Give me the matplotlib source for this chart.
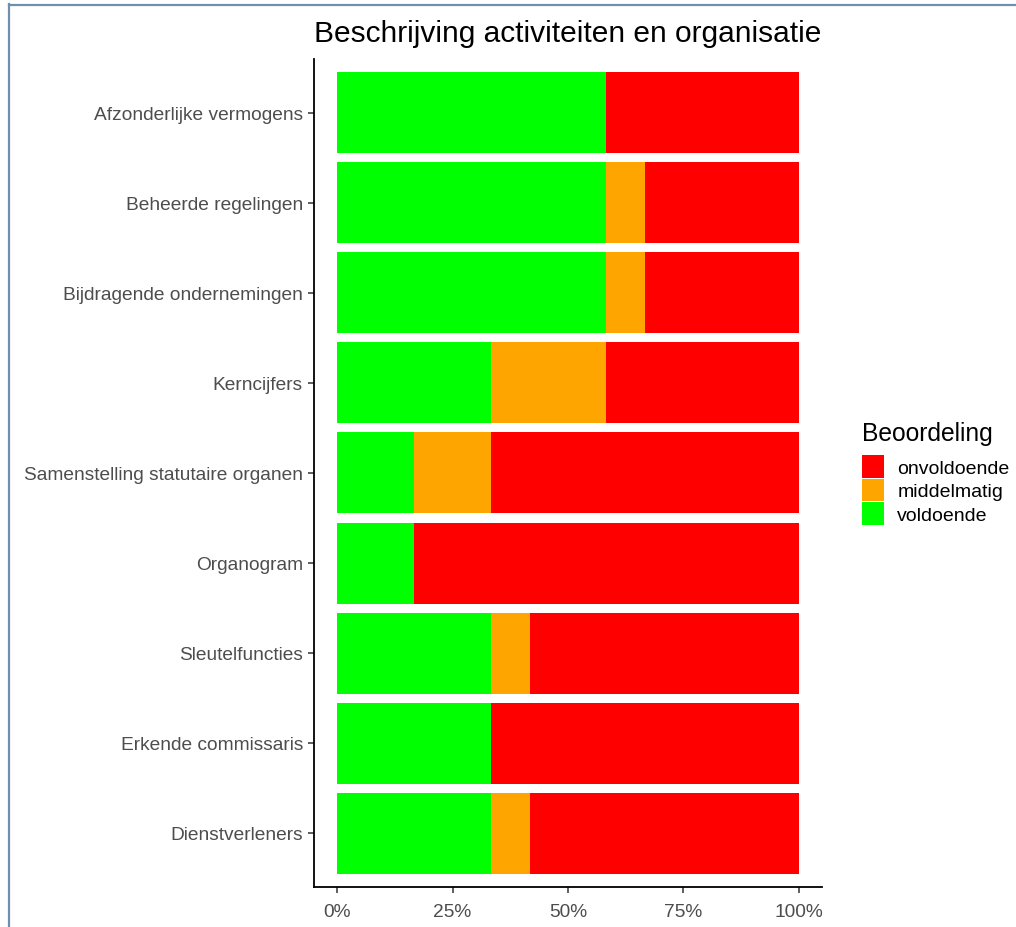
import matplotlib
matplotlib.use("Agg")
import matplotlib.pyplot as plt
from matplotlib.patches import Patch
from matplotlib.lines import Line2D
from matplotlib.ticker import FuncFormatter

plt.rcParams['font.family'] = ['Liberation Sans', 'DejaVu Sans']

categories = [
    "Afzonderlijke vermogens",
    "Beheerde regelingen",
    "Bijdragende ondernemingen",
    "Kerncijfers",
    "Samenstelling statutaire organen",
    "Organogram",
    "Sleutelfuncties",
    "Erkende commissaris",
    "Dienstverleners",
]
voldoende = [7/12, 7/12, 7/12, 4/12, 2/12, 2/12, 4/12, 4/12, 4/12]
middelmatig = [0, 1/12, 1/12, 3/12, 2/12, 0, 1/12, 0, 1/12]
onvoldoende = [5/12, 4/12, 4/12, 5/12, 8/12, 10/12, 7/12, 8/12, 7/12]
x_ticks = [0, 0.25, 0.5, 0.75, 1.0]
title = "Beschrijving activiteiten en organisatie"
legend_title = "Beoordeling"
series_names = ["onvoldoende", "middelmatig", "voldoende"]
colors = {"onvoldoende": "#FF0000", "middelmatig": "#FFA500", "voldoende": "#00FF00"}

W, H = 1016, 928
fig = plt.figure(figsize=(W / 100, H / 100), dpi=100)
ax = fig.add_axes([314 / W, 1 - 888 / H, (822 - 314) / W, (888 - 60) / H])

n = len(categories)
ypos = list(range(n - 1, -1, -1))
left = [0.0] * n
for name, vals in [("voldoende", voldoende), ("middelmatig", middelmatig), ("onvoldoende", onvoldoende)]:
    ax.barh(ypos, vals, left=left, height=0.9, color=colors[name], linewidth=0)
    left = [a + b for a, b in zip(left, vals)]

ax.set_xlim(-0.05, 1.05)
ax.set_ylim(-0.6, n - 1 + 0.6)
ax.set_yticks(ypos)
ax.set_yticklabels(categories)
ax.set_xticks(x_ticks)
ax.xaxis.set_major_formatter(FuncFormatter(lambda v, p: f"{int(round(v * 100))}%"))

for s in ["top", "right"]:
    ax.spines[s].set_visible(False)
for s in ["left", "bottom"]:
    ax.spines[s].set_linewidth(1.3)
    ax.spines[s].set_color("black")
ax.tick_params(axis="both", length=4, width=1.1, color="#333333",
               labelcolor="#4D4D4D", labelsize=13.8, pad=4)
ax.tick_params(axis="x", pad=7.5)

ax.set_title(title, fontsize=21.5, color="black", pad=13)

handles = [Patch(facecolor=colors[nm], edgecolor="none") for nm in series_names]
leg = ax.legend(handles, series_names, title=legend_title, loc="center left",
                bbox_to_anchor=(1.059, 0.5), frameon=False, fontsize=14,
                title_fontsize=17.7, handlelength=1.13, handleheight=1.4,
                labelspacing=0.05, handletextpad=0.7, borderpad=0,
                alignment="left")
leg._legend_box.sep = 7

# screenshot frame border
fig.add_artist(Line2D([9 / W, 9 / W], [0, 1 - 5 / H], transform=fig.transFigure,
                      color="#6F8FAF", linewidth=1.6))
fig.add_artist(Line2D([9 / W, 1], [1 - 5.5 / H, 1 - 5.5 / H], transform=fig.transFigure,
                      color="#6F8FAF", linewidth=1.6))

fig.savefig("out.png", dpi=100)
